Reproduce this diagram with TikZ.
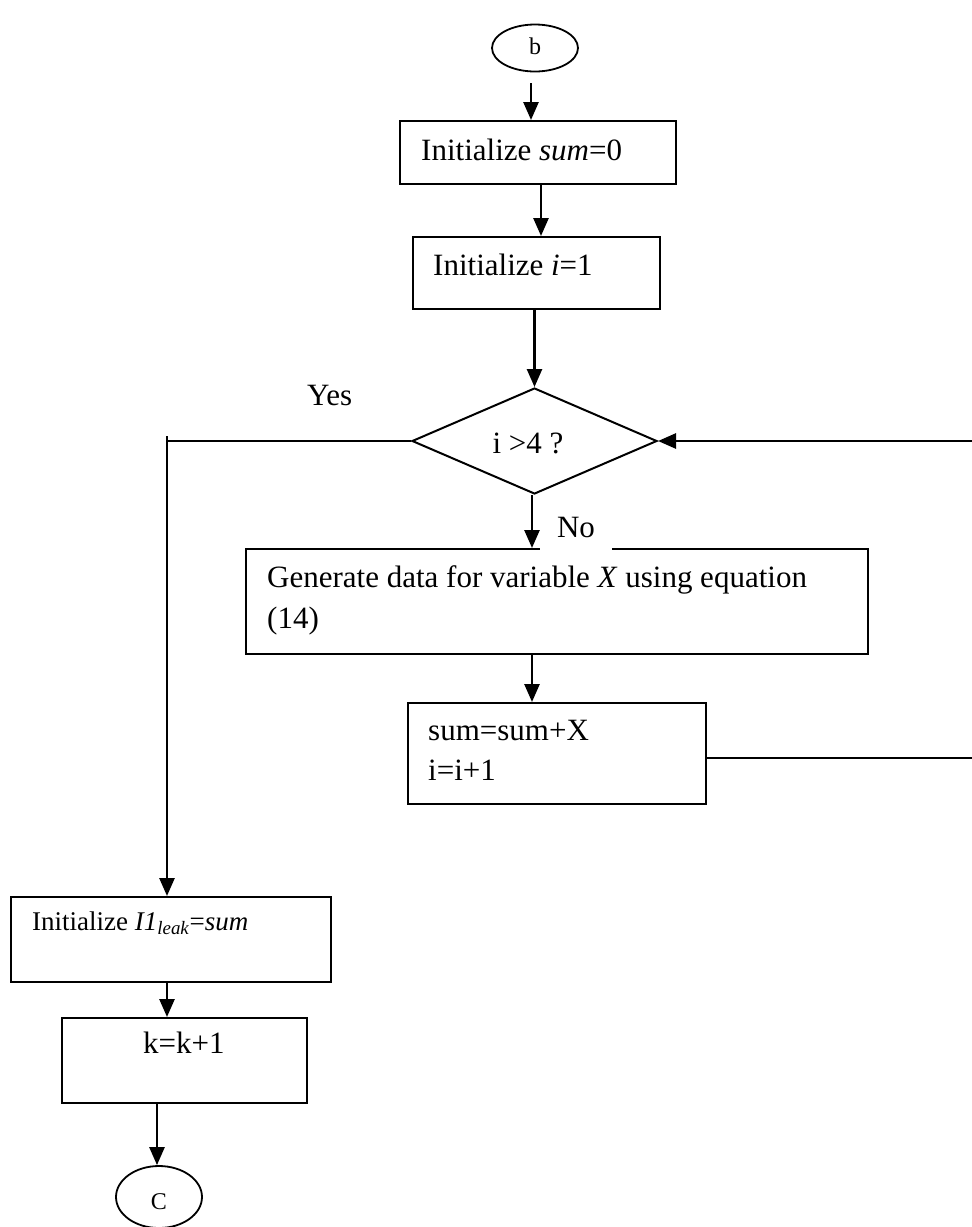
\documentclass[tikz,border=0pt]{standalone}
\usepackage{fontspec}
\setmainfont{Liberation Serif}
\usetikzlibrary{arrows.meta,shapes.geometric}
\begin{document}
\begin{tikzpicture}[x=1pt,y=-1pt,
  box/.style={draw,line width=2pt,rectangle,inner sep=0pt,anchor=north west},
  term/.style={draw,ellipse,line width=1.8pt,inner sep=0pt},
  txt/.style={anchor=base west,inner sep=0pt,font=\fontsize{31}{41}\selectfont},
  small/.style={anchor=base,inner sep=0pt,font=\fontsize{24}{28}\selectfont},
  arr/.style={line width=2.6pt,-{Triangle[length=18pt,width=15pt]}},
  ln/.style={line width=2pt}]
\useasboundingbox (0,0) rectangle (972,1227);

% shapes
\node[term,minimum width=86pt,minimum height=47pt] (b) at (535,48) {};
\node[box,minimum width=276pt,minimum height=63pt] (init1) at (399,120) {};
\node[box,minimum width=247pt,minimum height=72pt] (init2) at (412,236) {};
\node[draw,diamond,line width=2pt,inner sep=0pt,minimum width=245pt,minimum height=106pt] (dec) at (534.5,441) {};
\node[box,minimum width=622pt,minimum height=105pt] (gen) at (245,548) {};
\node[box,minimum width=298pt,minimum height=101pt] (sum) at (407,702) {};
\node[box,minimum width=320pt,minimum height=85pt] (leak) at (10,896) {};
\node[box,minimum width=245pt,minimum height=85pt] (kbox) at (61,1017) {};
\node[term,minimum width=86pt,minimum height=62pt] (c) at (159,1197) {};

% texts
\node[small] (tb) at (535,54) {b};
\node[txt] (t1) at (421,160) {Initialize \textit{sum}=0};
\node[txt] (t2) at (433,275) {Initialize \textit{i}=1};
\node[txt,anchor=base] (td) at (528,453) {i >4 ?};
\node[txt] (tyes) at (307,405) {Yes};
\node[txt] (tg1) at (267,587) {Generate data for variable \textit{X} using equation};
\node[txt] (tg2) at (267,628) {(14)};
\node[txt] (ts1) at (428,740) {sum=sum+X};
\node[txt] (ts2) at (428,780) {i=i+1};
\node[txt,font=\fontsize{27}{32}\selectfont] (tl) at (32,930) {Initialize \textit{I1}\textsubscript{\textit{leak}}=\textit{sum}};
\node[txt] (tk) at (143,1053) {k=k+1};
\node[small] (tc) at (159,1209) {C};

% connectors
\coordinate (a1) at (531,83);
\draw[arr] (a1) -- (a1 |- init1.north);
\draw[arr] ([xshift=3pt]init1.south) -- ([xshift=3pt]init1.south |- init2.north);
\draw[arr] (dec.north |- init2.south) -- (dec.north);
\draw[arr] ([xshift=-2.5pt]dec.south) -- ([xshift=-2.5pt]dec.south |- gen.north);
\draw[arr] ([xshift=-2.5pt]dec.south |- gen.south) -- ([xshift=-2.5pt]dec.south |- sum.north);

\coordinate (yc) at (167,441);
\coordinate (yt) at (167,436);
\draw[ln] (dec.west) -- (yc);
\draw[arr] (yt) -- (yt |- leak.north);
\draw[arr] (yt |- leak.south) -- (yt |- kbox.north);
\coordinate (kc) at (157,1102);
\draw[arr] (kc) -- (kc |- c.north);

\coordinate (rc) at (976,441);
\draw[ln] ([yshift=-4pt]sum.east) -- ([yshift=-4pt]sum.east -| rc) -- (rc);
\draw[arr] (rc) -- (dec.east);

% "No" label over the box edge
\node[txt,anchor=base,fill=white,minimum width=72pt,text depth=13pt] (tno) at (576,537) {No};
\end{tikzpicture}
\end{document}
